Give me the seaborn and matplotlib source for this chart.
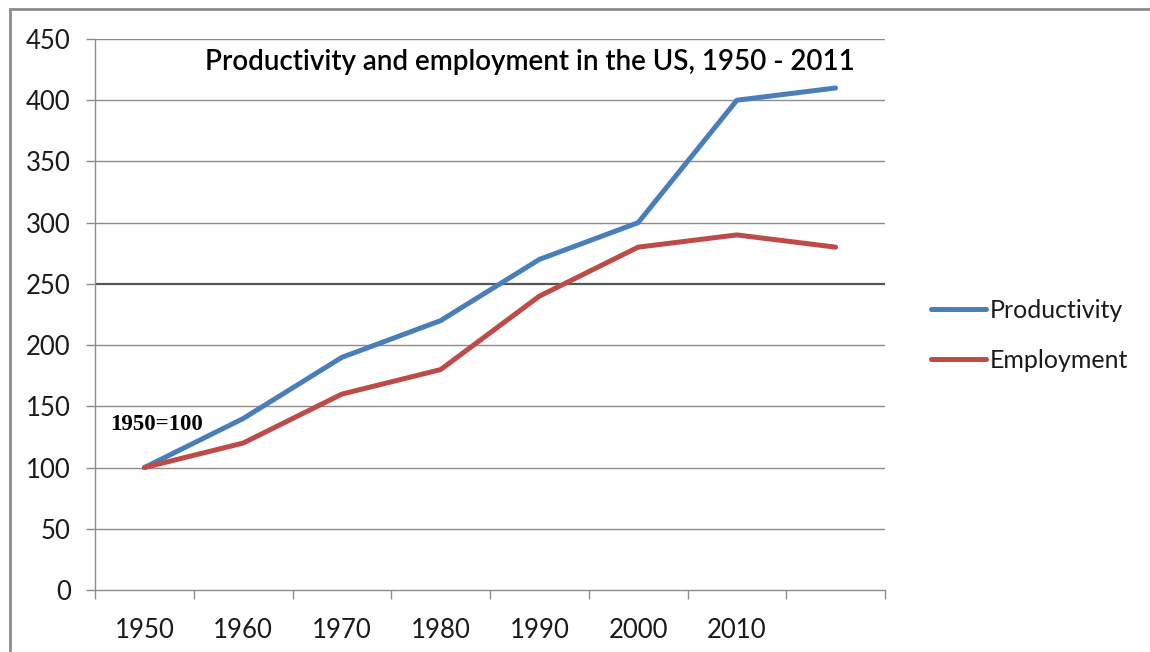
import numpy as np
import pandas as pd
import matplotlib
matplotlib.use("Agg")
import matplotlib.pyplot as plt
from matplotlib.patches import Rectangle
import seaborn as sns

# ---- data ----
years = ["1950", "1960", "1970", "1980", "1990", "2000", "2010", ""]
productivity = [100, 140, 190, 220, 270, 300, 400, 410]
employment = [100, 120, 160, 180, 240, 280, 290, 280]
series_names = ["Productivity", "Employment"]
yticks = [0, 50, 100, 150, 200, 250, 300, 350, 400, 450]

sns.set_theme(style="white")
plt.rcParams["font.family"] = ["Lato", "DejaVu Sans"]

pos = np.arange(len(years))
df = pd.DataFrame({
    "pos": np.concatenate([pos, pos]),
    "value": productivity + employment,
    "series": [series_names[0]] * len(pos) + [series_names[1]] * len(pos),
})

fig = plt.figure(figsize=(11.5, 6.52), dpi=100)
ax = fig.add_axes([95 / 1150, 62 / 652, 790 / 1150, 551 / 652])

sns.lineplot(data=df, x="pos", y="value", hue="series",
             palette={"Productivity": "#4A7EBB", "Employment": "#BE4B48"},
             linewidth=3.6, ax=ax, legend=True)

ax.set_xlim(-0.5, len(years) - 0.5)
ax.set_ylim(0, 450)
ax.set_xlabel("")
ax.set_ylabel("")

# y axis
ax.set_yticks(yticks)
ax.set_yticklabels([str(v) for v in yticks], fontsize=18.5, color="#1a1a1a")
for v in yticks:
    if v == 0:
        continue
    ax.axhline(v, color="#555555" if v == 250 else "#8c8c8c",
               lw=1.6 if v == 250 else 1.0, zorder=0)

# x axis: tick marks at category boundaries, labels at centres
ax.set_xticks(np.arange(-0.5, len(years), 1.0))
ax.set_xticklabels([""] * (len(years) + 1))
ax.set_xticks(pos, minor=True)
ax.set_xticklabels(years, minor=True, fontsize=18.5, color="#1a1a1a")
ax.tick_params(axis="x", which="major", length=6.5, width=1, color="#8c8c8c",
               direction="out", bottom=True)
ax.tick_params(axis="x", which="minor", length=0, pad=20, bottom=True)
ax.tick_params(axis="y", length=6.5, width=1, color="#8c8c8c", direction="out",
               left=True, pad=11)

for s in ["top", "right"]:
    ax.spines[s].set_visible(False)
for s in ["left", "bottom"]:
    ax.spines[s].set_color("#8c8c8c")
    ax.spines[s].set_linewidth(1.0)

# title inside plot area
ax.text((205 - 95) / 790, (652 - 62 - 62) / 551,
        "Productivity and employment in the US, 1950 - 2011",
        transform=ax.transAxes, ha="left", va="center", fontsize=20,
        fontweight="semibold", color="black")

# annotation
ax.text((110 - 95) / 790, (652 - 424 - 62) / 551, "1950=100",
        transform=ax.transAxes, ha="left", va="center", fontsize=16.5,
        fontweight="bold", family=["Liberation Serif"], color="black")

# legend to the right
leg = ax.legend(loc="center left", bbox_to_anchor=(1.030, 0.462),
                frameon=False, fontsize=18, handlelength=2.2,
                handletextpad=0.15, labelspacing=1.08)
for line in leg.get_lines():
    line.set_linewidth(3.6)
for t in leg.get_texts():
    t.set_color("#1a1a1a")

# outer chart border
fig.add_artist(Rectangle((10 / 1150, -0.05), 1.2, (652 - 9) / 652 + 0.05,
                         transform=fig.transFigure, fill=False,
                         edgecolor="#8c8c8c", lw=2))

fig.savefig("out.png", dpi=100)
